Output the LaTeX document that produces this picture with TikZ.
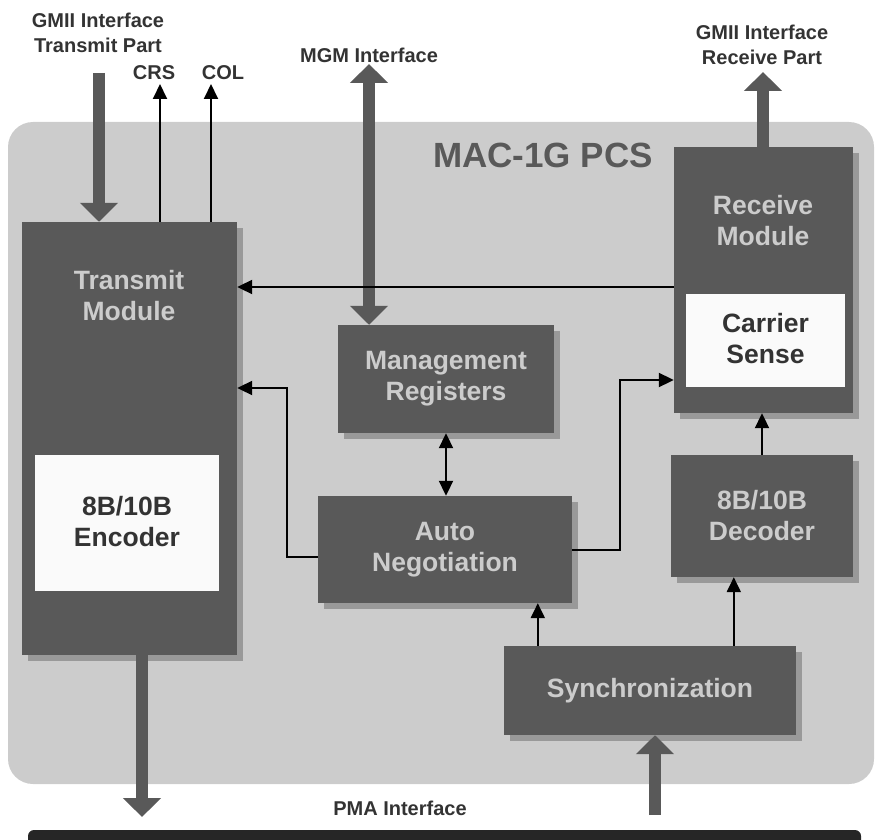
\documentclass[tikz,border=0pt]{standalone}
\usepackage{fontspec}
\setmainfont{Liberation Sans}
\usetikzlibrary{arrows.meta,shadows}
\definecolor{boxgray}{HTML}{595959}
\definecolor{bggray}{HTML}{CCCCCC}
\definecolor{shadowgray}{HTML}{999999}
\definecolor{boxtext}{HTML}{CCCCCC}
\definecolor{boxwhite}{HTML}{FAFAFA}
\definecolor{lbltext}{HTML}{333333}
\definecolor{bardark}{HTML}{262626}
\begin{document}
\begin{tikzpicture}[x=1pt, y=-1pt,
    blk/.style={fill=boxgray, draw=none, inner sep=0pt,
      drop shadow={shadow xshift=6pt, shadow yshift=-6pt, fill=shadowgray, opacity=1}},
    wbox/.style={fill=boxwhite, draw=none, inner sep=0pt},
    blktext/.style={text=boxtext, font=\fontsize{26.5}{31}\selectfont\bfseries, align=center},
    wtext/.style={text=lbltext, font=\fontsize{26.5}{31}\selectfont\bfseries, align=center},
    lbl/.style={text=lbltext, font=\fontsize{20}{25}\selectfont\bfseries, align=center},
    sig/.style={line width=2pt, -{Triangle[width=14pt,length=15pt]}},
    sigboth/.style={line width=2pt, {Triangle[width=14pt,length=15pt]}-{Triangle[width=14pt,length=15pt]}},
    fat/.style={draw=boxgray, line width=12pt, -{Triangle[width=37pt,length=19pt]}},
    fatboth/.style={draw=boxgray, line width=12pt, {Triangle[width=37pt,length=19pt]}-{Triangle[width=37pt,length=19pt]}}]
    \useasboundingbox (0,0) rectangle (875,840);
    % PCS area and PMA bar
    \fill[bggray, rounded corners=25pt] (8,122) rectangle (874,784);
    \fill[bardark, rounded corners=6pt] (28,830) rectangle (861,852);
    \node[text=boxgray, font=\fontsize{35}{40}\selectfont\bfseries] (pcs) at (543,155) {MAC-1G PCS};
    % blocks
    \node[blk, minimum width=215pt, minimum height=433pt] (tx) at (129.5,438.5) {};
    \node[blktext] (txt) at (129,296) {Transmit\\Module};
    \node[wbox, minimum width=184pt, minimum height=136pt] (enc) at (127,523) {};
    \node[wtext] (enct) at (127,522) {8B/10B\\Encoder};
    \node[blk, minimum width=179pt, minimum height=266pt] (rx) at (763.5,280) {};
    \node[blktext] (rxt) at (763,221) {Receive\\Module};
    \node[wbox, minimum width=159pt, minimum height=93pt] (cs) at (765.5,340.5) {};
    \node[wtext] (cst) at (765.5,339) {Carrier\\Sense};
    \node[blk, minimum width=216pt, minimum height=108pt, blktext] (mr) at (446,379) {Management\\Registers};
    \node[blk, minimum width=254pt, minimum height=107pt, blktext] (an) at (445,549.5) {Auto\\Negotiation};
    \node[blk, minimum width=182pt, minimum height=122pt, blktext] (dec) at (762,516) {8B/10B\\Decoder};
    \node[blk, minimum width=292pt, minimum height=89pt, blktext] (sync) at (650,690.5) {Synchronization};
    % outside labels
    \node[lbl] (gtxl) at (98,33) {GMII Interface\\Transmit Part};
    \node[lbl] (crsl) at (154,73) {CRS};
    \node[lbl] (coll) at (223,73) {COL};
    \node[lbl] (mgml) at (369,55) {MGM Interface};
    \node[lbl] (grxl) at (762,45) {GMII Interface\\Receive Part};
    \node[lbl] (pmal) at (400,808) {PMA Interface};
    % interface arrows
    \coordinate (gtx) at (99,73);
    \coordinate (crs) at (160,84);
    \coordinate (col) at (211,84);
    \coordinate (mgm) at (369,64);
    \coordinate (grx) at (763,72);
    \coordinate (txo) at (142,817);
    \coordinate (pin) at (655,815);
    \draw[fat] (gtx) -- (gtx |- tx.north);
    \draw[sig] (crs |- tx.north) -- (crs);
    \draw[sig] (col |- tx.north) -- (col);
    \draw[fatboth] (mgm) -- (mgm |- mr.north);
    \draw[fat] (grx |- rx.north) -- (grx);
    \draw[fat] (txo |- tx.south) -- (txo);
    \draw[fat] (pin) -- (pin |- sync.south);
    % internal connections
    \draw[sig] ([yshift=-7pt]rx.west) -- ([yshift=-7pt]rx.west -| tx.east);
    \draw[sig] ([yshift=-7.5pt]an.west) -- ++(-31,0) |- ([yshift=50.5pt]tx.east);
    \draw[sig] (an.east) -- ++(48,0) |- ([yshift=-100pt]rx.west);
    \draw[sigboth] (mr.south) -- (mr.south |- an.north);
    \coordinate (s1) at ([xshift=34pt]sync.north west);
    \coordinate (s2) at ([xshift=230pt]sync.north west);
    \draw[sig] (s1) -- (s1 |- an.south);
    \draw[sig] (s2) -- (s2 |- dec.south);
    \draw[sig] (dec.north) -- (dec.north |- rx.south);
\end{tikzpicture}
\end{document}
